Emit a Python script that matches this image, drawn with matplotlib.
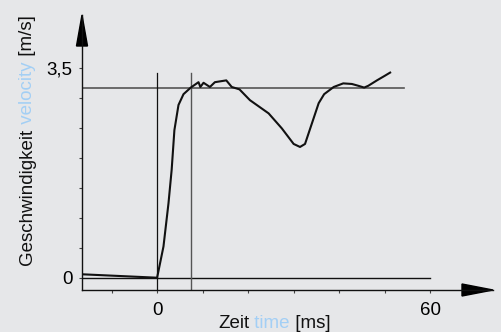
import matplotlib
matplotlib.use("Agg")
import matplotlib.pyplot as plt
from matplotlib.patches import Polygon

# ── data ──────────────────────────────────────────────────────────────
time_ms = [-16.5, 0.0, 1.4, 2.5, 3.2, 3.8, 4.7, 5.8, 7.4, 9.1, 9.5, 10.2,
           11.6, 12.7, 15.2, 16.4, 18.1, 20.4, 24.5, 27.4, 30.0, 31.4,
           32.5, 34.0, 35.5, 36.7, 38.8, 40.9, 42.8, 44.2, 45.5, 46.4,
           48.3, 50.1, 51.2]
velocity = [0.057, 0.0, 0.52, 1.24, 1.8, 2.46, 2.88, 3.06, 3.17, 3.26, 3.18,
            3.25, 3.18, 3.26, 3.29, 3.18, 3.14, 2.96, 2.74, 2.49, 2.23, 2.18,
            2.23, 2.57, 2.91, 3.06, 3.18, 3.24, 3.23, 3.2, 3.17, 3.2,
            3.29, 3.37, 3.42]

ref_level = 3.16          # grey horizontal reference
ref_end = 54.3
marker_times = [0.0, 7.4]  # vertical marker lines
marker_top = 3.41
zero_end = 60.0

x_ticks = [-10, 0, 10, 20, 30, 40, 50, 60]
x_tick_labels = ["", "0", "", "", "", "", "", "60"]
y_ticks = [0, 0.5, 1.0, 1.5, 2.0, 2.5, 3.0, 3.5]
y_tick_labels = ["0", "", "", "", "", "", "", "3,5"]

ylabel_parts = [("Geschwindigkeit", "#111111"), (" velocity", "#a3cff5"),
                (" [m/s]", "#111111")]
xlabel_parts = [("Zeit", "#111111"), (" time", "#a3cff5"),
                (" [ms]", "#111111")]

BG = "#e6e7e9"
W, H = 502, 332
FS = 13.5

plt.rcParams["font.family"] = ["Liberation Sans", "DejaVu Sans"]

fig = plt.figure(figsize=(W / 100, H / 100), dpi=100, facecolor=BG)
ax_l, ax_r, ax_b, ax_t = 82, 493, 290, 15   # pixel frame of the axes
ax = fig.add_axes([ax_l / W, (H - ax_b) / H, (ax_r - ax_l) / W, (ax_b - ax_t) / H])
ax.set_facecolor(BG)
ax.set_xlim(-16.5, 73.8)
ax.set_ylim(-0.205, 4.38)

for s in ("top", "right"):
    ax.spines[s].set_visible(False)
for s in ("left", "bottom"):
    ax.spines[s].set_linewidth(1.0)
    ax.spines[s].set_color("#111111")

ax.set_xticks(x_ticks, x_tick_labels, fontsize=FS)
ax.set_yticks(y_ticks, y_tick_labels, fontsize=FS)
ax.tick_params(axis="x", length=2.5, width=0.8, color="#444444", pad=6)
ax.tick_params(axis="y", length=2.5, width=0.8, color="#444444", pad=4.5)

# reference lines
ax.plot([-16.5, zero_end], [0, 0], color="#111111", lw=1.0)
ax.plot([-16.5, ref_end], [ref_level, ref_level], color="#555555", lw=1.2)
ax.plot([marker_times[0]] * 2, [-0.205, marker_top], color="#111111", lw=0.9)
ax.plot([marker_times[1]] * 2, [-0.205, marker_top], color="#555555", lw=1.0)

# measured curve
ax.plot(time_ms, velocity, color="#111111", lw=1.5, solid_joinstyle="round")

# arrow heads (sizes in pixels converted to axes fraction)
aw, ah = ax_r - ax_l, ax_b - ax_t
hx, hy = 31 / ah, 5.5 / aw
ax.add_patch(Polygon([(0, 1), (-hy, 1 - hx), (hy, 1 - hx)], closed=True,
                     transform=ax.transAxes, color="black", clip_on=False))
vx, vy = 31 / aw, 6 / ah
ax.add_patch(Polygon([(1, 0), (1 - vx, vy), (1 - vx, -vy)], closed=True,
                     transform=ax.transAxes, color="black", clip_on=False))

# multi-coloured axis labels; advance measured on unrotated text
renderer = fig.canvas.get_renderer()


def text_width(txt):
    tmp = fig.text(0, 0, txt, fontsize=FS)
    w = tmp.get_window_extent(renderer).width
    tmp.remove()
    return w


y_pos = H - 265
for txt, col in ylabel_parts:
    fig.text(32 / W, y_pos / H, txt, color=col, fontsize=FS, rotation=90,
             rotation_mode="anchor", ha="left", va="baseline")
    y_pos += text_width(txt)

x_pos = 218
for txt, col in xlabel_parts:
    fig.text(x_pos / W, (H - 328) / H, txt, color=col, fontsize=FS,
             ha="left", va="baseline")
    x_pos += text_width(txt)

fig.savefig("out.png", dpi=100, facecolor=BG)
